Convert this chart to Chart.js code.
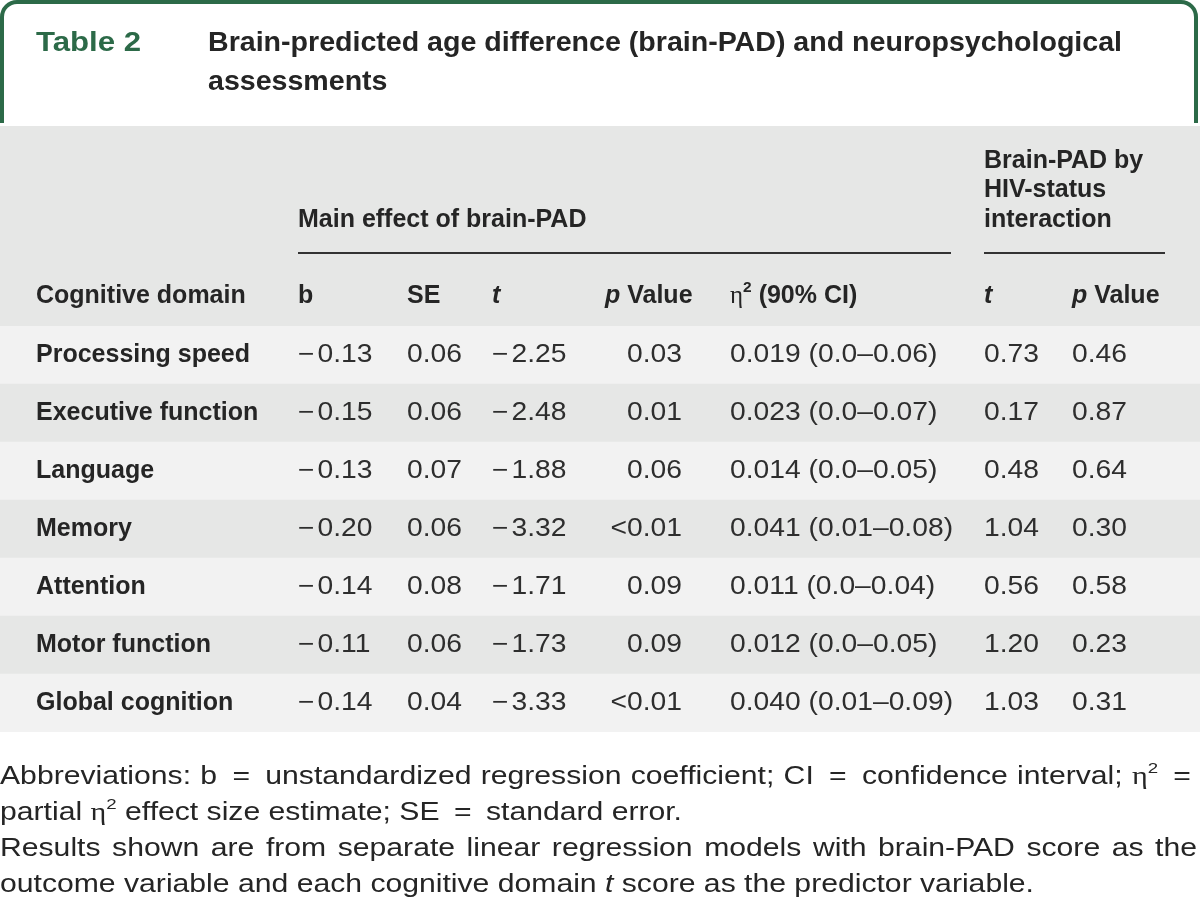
<!DOCTYPE html>
<html>
<head>
<meta charset="utf-8">
<script src="https://cdn.jsdelivr.net/npm/chart.js@4/dist/chart.umd.min.js"></script>
<style>
  html, body { margin: 0; padding: 0; background: #ffffff; }
  #wrap { width: 1200px; height: 908px; }
</style>
</head>
<body>
<div id="wrap"><canvas id="c" width="1200" height="908"></canvas></div>
<script>
// ---------------- data ----------------
const tableLabel = 'Table 2';
const titleLines = ['Brain-predicted age difference (brain-PAD) and neuropsychological', 'assessments'];
const domains = ['Processing speed', 'Executive function', 'Language', 'Memory', 'Attention', 'Motor function', 'Global cognition'];
const bCoef = [-0.13, -0.15, -0.13, -0.20, -0.14, -0.11, -0.14];
const seVals = [0.06, 0.06, 0.07, 0.06, 0.08, 0.06, 0.04];
const tMain = [-2.25, -2.48, -1.88, -3.32, -1.71, -1.73, -3.33];
const pMain = ['0.03', '0.01', '0.06', '<0.01', '0.09', '0.09', '<0.01'];
const etaSq = [0.019, 0.023, 0.014, 0.041, 0.011, 0.012, 0.040];
const etaLow = ['0.0', '0.0', '0.0', '0.01', '0.0', '0.0', '0.01'];
const etaHigh = ['0.06', '0.07', '0.05', '0.08', '0.04', '0.05', '0.09'];
const tInter = [0.73, 0.17, 0.48, 1.04, 0.56, 1.20, 1.03];
const pInter = [0.46, 0.87, 0.64, 0.30, 0.58, 0.23, 0.31];
const groupMain = 'Main effect of brain-PAD';
const groupInter = ['Brain-PAD by', 'HIV-status', 'interaction'];
const footLines = [
  'Abbreviations: b = unstandardized regression coefficient; CI = confidence interval; η² =',
  'partial η² effect size estimate; SE = standard error.',
  'Results shown are from separate linear regression models with brain-PAD score as the',
  'outcome variable and each cognitive domain t score as the predictor variable.'
];

// ---------------- helpers ----------------
const SANS = '"Liberation Sans", Arial, Helvetica, sans-serif';
const SERIF = '"Liberation Serif", "Times New Roman", serif';
const numRuns = (v, d) => {
  const s = Math.abs(v).toFixed(d);
  return v < 0 ? [{ t: '\u2212', gap: 3 }, { t: s }] : [{ t: s }];
};

function toRuns(r) {
  if (typeof r === 'string') {
    const out = [];
    const parts = r.split(/(η²)/);
    parts.forEach(p => {
      if (p === 'η²') { out.push({ t: 'η', serif: true }); out.push({ t: '2', sup: true }); }
      else if (p) out.push({ t: p });
    });
    return out;
  }
  return r;
}
function runFont(run, o) {
  const size = run.sup ? o.size * 0.62 : o.size;
  const w = run.w || o.weight || 'normal';
  return (run.it ? 'italic ' : '') + w + ' ' + size + 'px ' + (run.serif ? SERIF : SANS);
}
function runWidth(ctx, run, o) {
  ctx.font = runFont(run, o);
  return ctx.measureText(run.t).width * (o.sx || 1) + (run.gap || 0);
}
function measureRuns(ctx, runs, o) {
  let w = 0;
  runs.forEach(run => { w += runWidth(ctx, run, o); });
  return w;
}
function drawRuns(ctx, r, x, y, o) {
  const runs = toRuns(r);
  const sx = o.sx || 1;
  const total = measureRuns(ctx, runs, o);
  let cx = x;
  if (o.align === 'right') cx = x - total;
  else if (o.align === 'center') cx = x - total / 2;
  ctx.fillStyle = o.color || '#222';
  ctx.textBaseline = o.baseline || 'middle';
  ctx.textAlign = 'left';
  runs.forEach(run => {
    const w = runWidth(ctx, run, o);
    ctx.font = runFont(run, o);
    ctx.save();
    ctx.translate(cx, y + (run.sup ? -o.size * 0.33 : 0));
    ctx.scale(sx, 1);
    ctx.fillText(run.t, 0, 0);
    ctx.restore();
    cx += w;
  });
  return total;
}
function wordRuns(w) {
  if (w === '=') return [{ t: '\u2009=\u2009' }];
  return toRuns(w);
}
function drawWords(ctx, line, x0, x1, y, o, justify) {
  const words = line.split(' ');
  const runs = words.map(wordRuns);
  const ws = runs.map(r => measureRuns(ctx, r, o));
  ctx.font = runFont({}, o);
  const space = ctx.measureText(' ').width * (o.sx || 1);
  const sum = ws.reduce((a, b) => a + b, 0);
  const gap = justify ? (x1 - x0 - sum) / (words.length - 1) : space;
  let cx = x0;
  runs.forEach((r, i) => { drawRuns(ctx, r, cx, y, o); cx += ws[i] + gap; });
}

// ---------------- layout (pixels) ----------------
const COLX = { label: 36, b: 298, se: 407, t: 492, p: 682, pHead: 605, eta: 730, t2: 984, p2: 1072 };
const INK = '#252525';
const NUM = '#2e2e2e';
const GREEN = '#2c6a48';
const HEAD_BG = '#e6e7e6';
const ROW_LIGHT = '#f2f2f2';

const tablePlugin = {
  id: 'tablePlugin',
  beforeDraw(chart) {
    const ctx = chart.ctx;
    ctx.save();
    ctx.fillStyle = '#ffffff';
    ctx.fillRect(0, 0, chart.width, chart.height);
    const xs = chart.scales.x;
    ctx.fillStyle = HEAD_BG;
    ctx.fillRect(xs.getPixelForValue(0), 126, xs.getPixelForValue(1200) - xs.getPixelForValue(0), chart.chartArea.top - 126);
    // green frame
    ctx.strokeStyle = GREEN;
    ctx.lineWidth = 4;
    ctx.lineJoin = 'round';
    const r = 15;
    ctx.beginPath();
    ctx.moveTo(2, 123);
    ctx.lineTo(2, 2 + r);
    ctx.arcTo(2, 2, 2 + r, 2, r);
    ctx.lineTo(1196 - r, 2);
    ctx.arcTo(1196, 2, 1196, 2 + r, r);
    ctx.lineTo(1196, 123);
    ctx.stroke();
    // table label and title
    ctx.font = 'bold 27px ' + SANS;
    const labSx = 105 / ctx.measureText(tableLabel).width;
    drawRuns(ctx, tableLabel, 36, 51, { size: 27, weight: 'bold', color: GREEN, sx: labSx, baseline: 'alphabetic' });
    ctx.font = 'bold 27px ' + SANS;
    const tSx = 914 / ctx.measureText(titleLines[0]).width;
    drawRuns(ctx, titleLines[0], 208, 51, { size: 27, weight: 'bold', color: INK, sx: tSx, baseline: 'alphabetic' });
    drawRuns(ctx, titleLines[1], 208, 90, { size: 27, weight: 'bold', color: INK, sx: tSx, baseline: 'alphabetic' });
    ctx.restore();
  },
  afterDatasetsDraw(chart) {
    const ctx = chart.ctx;
    const xs = chart.scales.x, ys = chart.scales.y;
    const X = k => xs.getPixelForValue(COLX[k]);
    const top = chart.chartArea.top;
    ctx.save();
    const hb = { size: 25, weight: 'bold', color: INK, sx: 1.0 };
    drawRuns(ctx, groupMain, X('b'), top - 106, hb);
    groupInter.forEach((s, i) => drawRuns(ctx, s, X('t2'), top - 165 + i * 29.5, hb));
    ctx.strokeStyle = '#333';
    ctx.lineWidth = 2;
    ctx.beginPath();
    ctx.moveTo(X('b'), top - 73); ctx.lineTo(xs.getPixelForValue(951), top - 73);
    ctx.moveTo(X('t2'), top - 73); ctx.lineTo(xs.getPixelForValue(1165), top - 73);
    ctx.stroke();
    const hy = top - 30;
    drawRuns(ctx, 'Cognitive domain', X('label'), hy, hb);
    drawRuns(ctx, 'b', X('b'), hy, hb);
    drawRuns(ctx, 'SE', X('se'), hy, hb);
    drawRuns(ctx, [{ t: 't', it: true }], X('t'), hy, hb);
    drawRuns(ctx, [{ t: 'p', it: true }, { t: ' Value' }], X('pHead'), hy, hb);
    drawRuns(ctx, [{ t: 'η', serif: true, w: 'normal' }, { t: '2', sup: true }, { t: ' (90% CI)' }], X('eta'), hy, hb);
    drawRuns(ctx, [{ t: 't', it: true }], X('t2'), hy, hb);
    drawRuns(ctx, [{ t: 'p', it: true }, { t: ' Value' }], X('p2'), hy, hb);
    const nb = { size: 25, weight: 'normal', color: NUM, sx: 1.13 };
    domains.forEach((d, i) => {
      const y = ys.getPixelForValue(i);
      drawRuns(ctx, d, X('label'), y, { size: 25, weight: 'bold', color: INK, sx: 1.0 });
      drawRuns(ctx, numRuns(bCoef[i], 2), X('b'), y, nb);
      drawRuns(ctx, numRuns(seVals[i], 2), X('se'), y, nb);
      drawRuns(ctx, numRuns(tMain[i], 2), X('t'), y, nb);
      drawRuns(ctx, pMain[i], X('p'), y, Object.assign({}, nb, { align: 'right' }));
      drawRuns(ctx, etaSq[i].toFixed(3) + ' (' + etaLow[i] + '\u2013' + etaHigh[i] + ')', X('eta'), y, nb);
      drawRuns(ctx, numRuns(tInter[i], 2), X('t2'), y, nb);
      drawRuns(ctx, numRuns(pInter[i], 2), X('p2'), y, nb);
    });
    // footnotes
    const bottom = chart.chartArea.bottom;
    const fo = { size: 25, weight: 'normal', color: INK, sx: 1 };
    const l4 = [{ t: 'outcome variable and each cognitive domain ' }, { t: 't', it: true }, { t: ' score as the predictor variable.' }];
    fo.sx = 1034 / measureRuns(ctx, l4, Object.assign({}, fo, { sx: 1 }));
    const fy = [bottom + 45, bottom + 81, bottom + 117, bottom + 153];
    drawWords(ctx, footLines[0], 0, 1197, fy[0], fo, true);
    drawWords(ctx, footLines[1], 0, 1197, fy[1], fo, false);
    drawWords(ctx, footLines[2], 0, 1197, fy[2], fo, true);
    drawRuns(ctx, l4, 0, fy[3], fo);
    ctx.restore();
  }
};

const stripeColors = domains.map((_, i) => (i % 2 === 0 ? ROW_LIGHT : HEAD_BG));

new Chart(document.getElementById('c'), {
  type: 'bar',
  data: {
    labels: domains,
    datasets: [{
      data: domains.map(() => [0, 1200]),
      backgroundColor: stripeColors,
      borderWidth: 0,
      borderSkipped: false,
      categoryPercentage: 1.0,
      barPercentage: 1.0
    }]
  },
  options: {
    indexAxis: 'y',
    responsive: false,
    animation: false,
    events: [],
    layout: { padding: { top: 326, bottom: 176, left: 0, right: 0 } },
    plugins: { legend: { display: false }, tooltip: { enabled: false }, title: { display: false } },
    scales: {
      x: { type: 'linear', min: 0, max: 1200, display: false },
      y: { type: 'category', display: false, offset: true }
    }
  },
  plugins: [tablePlugin]
});
</script>
</body>
</html>
